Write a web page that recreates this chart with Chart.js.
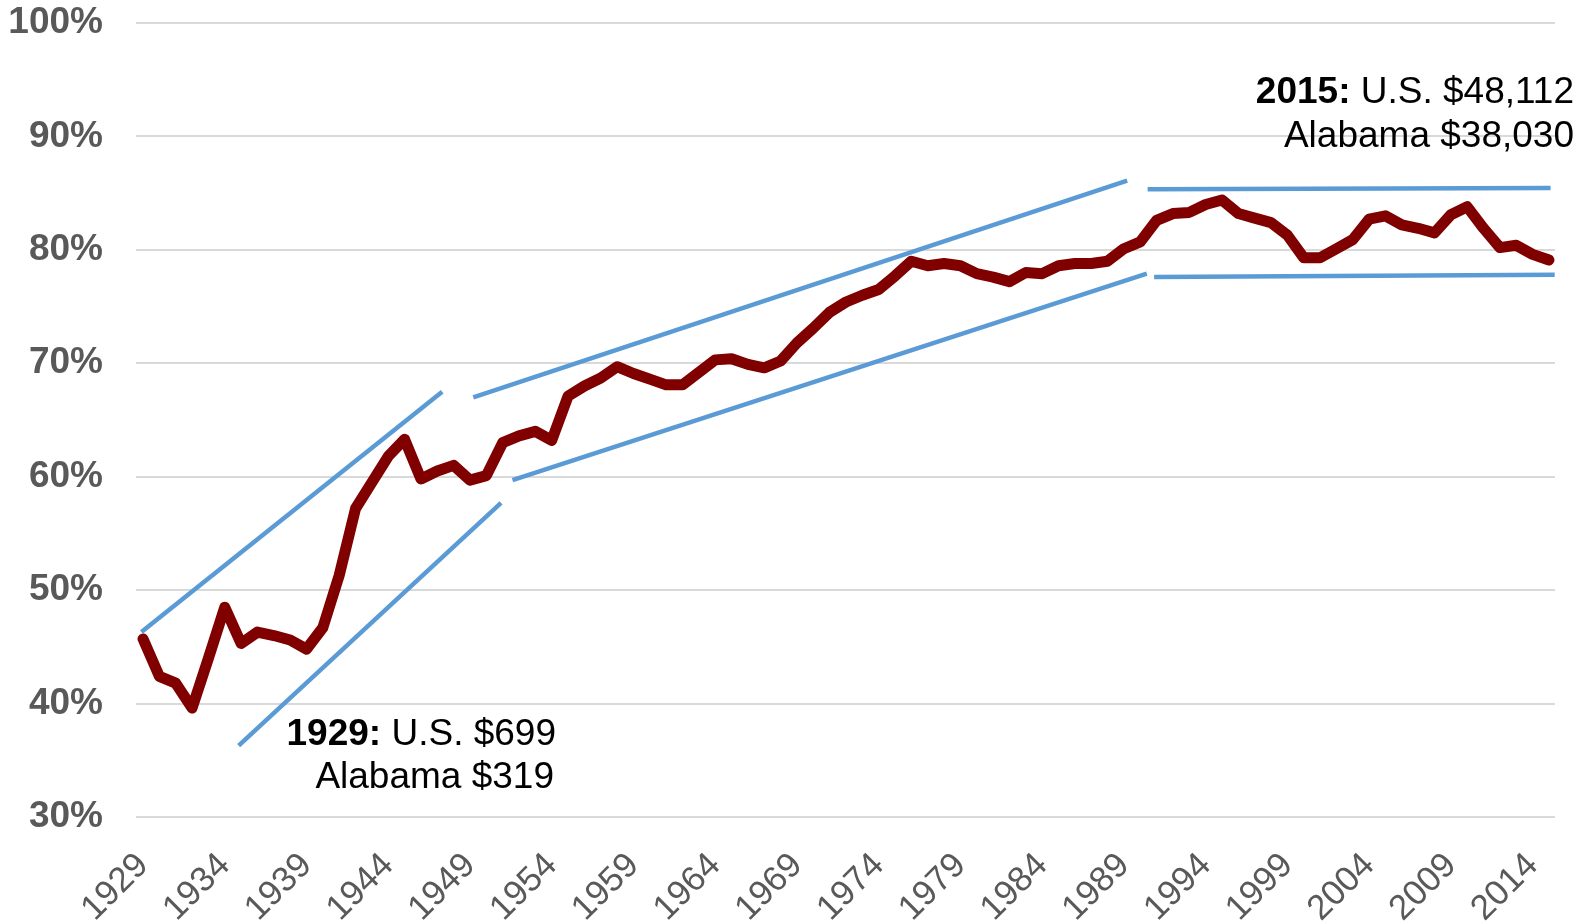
<!DOCTYPE html>
<html>
<head>
<meta charset="utf-8">
<script src="https://cdn.jsdelivr.net/npm/chart.js@4/dist/chart.umd.min.js"></script>
<style>
  body { margin: 0; background: #fff; }
  #wrap { width: 1592px; height: 922px; }
</style>
</head>
<body>
<div id="wrap"><canvas id="incomeChart"></canvas></div>
<script>
// Alabama per capita income as % of U.S., 1929-2015
const years = [];
for (let y = 1929; y <= 2015; y++) years.push(y);

const alabamaPct = [
  45.7, 42.4, 41.8, 39.6, 44.0, 48.5, 45.3, 46.3, 46.0, 45.6,
  44.8, 46.7, 51.3, 57.2, 59.5, 61.8, 63.3, 59.8, 60.5, 61.0,
  59.7, 60.1, 63.0, 63.6, 64.0, 63.2, 67.1, 68.0, 68.7, 69.7,
  69.1, 68.6, 68.1, 68.1, 69.2, 70.3, 70.4, 69.9, 69.6, 70.2,
  71.8, 73.1, 74.5, 75.4, 76.0, 76.5, 77.7, 79.0, 78.6, 78.8,
  78.6, 77.9, 77.6, 77.2, 78.0, 77.9, 78.6, 78.8, 78.8, 79.0,
  80.1, 80.7, 82.6, 83.2, 83.3, 84.0, 84.4, 83.2, 82.8, 82.4,
  81.3, 79.3, 79.3, 80.1, 80.9, 82.7, 83.0, 82.2, 81.9, 81.5,
  83.1, 83.8, 81.9, 80.2, 80.4, 79.6, 79.1
];

const tickYears = [1929, 1934, 1939, 1944, 1949, 1954, 1959, 1964, 1969,
  1974, 1979, 1984, 1989, 1994, 1999, 2004, 2009, 2014];

// trend channel segments: [startYear, endYear] and [startValue, endValue]
const upperLeftYears = [1928.9, 1947.3];
const upperLeftVals = [46.3, 67.5];
const upperMidYears = [1949.2, 1989.2];
const upperMidVals = [67.0, 86.1];
const lowerLeftYears = [1934.85, 1950.9];
const lowerLeftVals = [36.3, 57.7];
const lowerMidYears = [1951.6, 1990.4];
const lowerMidVals = [59.7, 77.9];
const topFlatYears = [1990.45, 2015.1];
const topFlatVals = [85.35, 85.45];
const bottomFlatYears = [1990.85, 2015.35];
const bottomFlatVals = [77.6, 77.8];

const trendSegments = [
  [upperLeftYears, upperLeftVals],
  [upperMidYears, upperMidVals],
  [lowerLeftYears, lowerLeftVals],
  [lowerMidYears, lowerMidVals],
  [topFlatYears, topFlatVals],
  [bottomFlatYears, bottomFlatVals]
];

const FONT = "'Liberation Sans', Arial, sans-serif";

const trendSets = trendSegments.map(([xs, vs]) => ({
  data: xs.map((x, i) => ({ x, y: vs[i] })),
  borderColor: "#5B9BD5",
  borderWidth: 4.5,
  pointRadius: 0,
  order: 2
}));

// text notes
const notes = [
  { x: 1574, y: 103, bold: "2015:", rest: " U.S. $48,112" },
  { x: 1574, y: 147, bold: "", rest: "Alabama $38,030" },
  { x: 556, y: 745, bold: "1929:", rest: " U.S. $699" },
  { x: 554, y: 788, bold: "", rest: "Alabama $319" }
];

const notePlugin = {
  id: "notes",
  afterDatasetsDraw(chart) {
    const ctx = chart.ctx;
    ctx.save();
    ctx.fillStyle = "#000";
    ctx.textBaseline = "alphabetic";
    ctx.textAlign = "right";
    notes.forEach((n) => {
      ctx.font = "37px " + FONT;
      const w = ctx.measureText(n.rest).width;
      ctx.fillText(n.rest, n.x, n.y);
      if (n.bold) {
        ctx.font = "bold 37px " + FONT;
        ctx.fillText(n.bold, n.x - w, n.y);
      }
    });
    ctx.restore();
  }
};

const ctx = document.getElementById("incomeChart").getContext("2d");
new Chart(ctx, {
  type: "line",
  data: {
    datasets: [
      {
        data: years.map((y, i) => ({ x: y, y: alabamaPct[i] })),
        borderColor: "#800000",
        borderWidth: 11,
        pointRadius: 0,
        borderJoinStyle: "round",
        borderCapStyle: "round",
        tension: 0,
        order: 1
      },
      ...trendSets
    ]
  },
  options: {
    responsive: true,
    maintainAspectRatio: false,
    animation: false,
    layout: { padding: { top: 23, right: 37, left: 0, bottom: 0 } },
    plugins: { legend: { display: false }, tooltip: { enabled: false } },
    scales: {
      x: {
        type: "linear",
        min: 1928.57,
        max: 2015.37,
        afterBuildTicks: (scale) => {
          scale.ticks = tickYears.map((v) => ({ value: v }));
        },
        afterFit: (scale) => { scale.height = 105; },
        grid: { display: false },
        border: { display: false },
        ticks: {
          autoSkip: false,
          maxRotation: 45,
          minRotation: 45,
          padding: 20,
          color: "#595959",
          font: { family: FONT, size: 35 },
          callback: (v) => String(v)
        }
      },
      y: {
        min: 30,
        max: 100,
        afterFit: (scale) => {
          scale.width = 136;
          scale.paddingTop = 0;
          scale.paddingBottom = 0;
        },
        grid: { color: "#D9D9D9", lineWidth: 2, drawTicks: false },
        border: { display: false },
        ticks: {
          stepSize: 10,
          padding: 33,
          color: "#595959",
          font: { family: FONT, size: 37, weight: "bold" },
          callback: (v) => v + "%"
        }
      }
    }
  },
  plugins: [notePlugin]
});
</script>
</body>
</html>
